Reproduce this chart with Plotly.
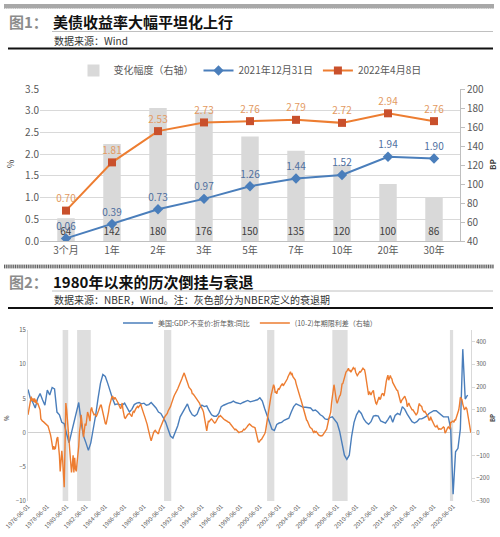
import pandas as pd
import plotly.graph_objects as go

FONT = "Noto Sans CJK SC"
W, H = 500, 537

# ---- chart 1: treasury curve
tenors = ["3个月", "1年", "2年", "3年", "5年", "7年", "10年", "20年", "30年"]
y_2021 = [0.06, 0.39, 0.73, 0.97, 1.26, 1.44, 1.52, 1.94, 1.90]
y_2022 = [0.70, 1.81, 2.53, 2.73, 2.76, 2.79, 2.72, 2.94, 2.76]
chg_bp = [64, 142, 180, 176, 150, 135, 120, 100, 86]

# ---- chart 2: GDP yoy (quarterly, from 1976Q2) and 10y-2y spread (monthly, from 1976-06)
gdp_start = "1976-06-01"
gdp_yoy = [
    6.3, 5.0, 4.4,
    3.6, 5.0, 5.7, 4.8,
    4.0, 6.2, 5.5, 6.6,
    6.4, 3.0, 2.6, 1.5,
    1.3, -0.2, -1.5, 0.0,
    1.5, 3.0, 4.4, 1.5,
    -0.5, -1.5, -2.6, -1.5,
    0.3, 2.5, 5.0, 7.2,
    8.5, 8.2, 7.2, 6.0,
    5.0, 4.1, 4.2, 4.1,
    4.0, 4.3, 3.6, 3.0,
    3.4, 4.1, 4.3, 4.4,
    4.2, 4.3, 4.0, 4.1,
    4.4, 4.0, 3.6, 3.0,
    2.8, 2.2, 1.5, 0.5,
    -0.5, -0.8, 0.0, 1.0,
    2.3, 3.0, 3.6, 4.2,
    3.2, 2.6, 2.4, 2.7,
    3.6, 4.0, 3.8, 3.9,
    3.2, 2.6, 2.4, 2.4,
    2.8, 3.8, 4.0, 4.2,
    4.3, 4.4, 4.6, 4.4,
    4.3, 4.2, 4.4, 4.6,
    4.7, 4.5, 4.6, 4.7,
    4.8, 5.1, 4.6, 3.5,
    2.5, 1.3, 0.5, 0.3,
    1.2, 1.4, 1.5, 1.8,
    1.9, 2.1, 3.0, 3.8,
    4.2, 4.0, 3.8, 3.7,
    3.7, 3.6, 3.6, 3.2,
    3.3, 3.0, 2.6, 2.4,
    2.0, 1.9, 2.2, 2.3,
    1.8, 1.4, 0.2, -1.8,
    -3.3, -3.9, -3.3, -0.5,
    1.5, 2.6, 3.2, 2.8,
    2.0, 1.5, 1.2, 1.6,
    2.4, 2.5, 2.4, 1.7,
    1.5, 1.4, 1.9, 2.5,
    1.5, 2.5, 2.8, 2.6,
    3.8, 3.4, 2.7, 2.2,
    1.6, 1.4, 1.6, 2.0,
    2.0, 2.2, 2.4, 2.8,
    3.0, 3.2, 3.2, 2.9,
    2.6, 2.3, 2.3, 2.3,
    0.6, -9.0, -2.8, -2.3,
    0.5, 12.2, 4.9, 5.5,
]

spread_start = "1976-06-01"
spread_bp = [
    78, 100, 125, 145, 158, 140, 150,
    135, 150, 130, 145, 125, 130, 120, 110, 100, 60, 52, 50,
    48, 45, 42, 40, 35, 30, 28, 15, 5, -10, -30, -60,
    -75, -60, -72, -70, -45, -25, -20, -50, -100, -170, -120, -80,
    -120, -180, -240, -60, 130, 100, 50, 10, -40, -110, -150, -175,
    -140, -100, -175, -110, -160, -170, -130, -105, -60, 5, 30, 78,
    40, 0, -20, 10, 40, 30, 60, 90, 80, 60, 50, 100,
    110, 95, 85, 78, 80, 75, 72, 80, 95, 100, 110, 120,
    120, 100, 85, 75, 60, 40, 36, 50, 70, 90, 115, 132,
    145, 155, 160, 150, 145, 155, 150, 140, 138, 130, 120, 110,
    105, 115, 130, 100, 80, 65, 63, 70, 75, 80, 82, 84,
    80, 75, 70, 85, 95, 90, 100, 105, 110, 115, 110, 118,
    120, 123, 110, 100, 90, 80, 70, 60, 50, 36, 20, 0,
    -15, -25, -36, -20, -10, 0, 6, 10, 5, 0, -5, -6,
    10, 20, 30, 35, 45, 55, 63, 70, 75, 80, 84, 95,
    100, 105, 114, 125, 140, 150, 156, 165, 175, 180, 185, 192,
    200, 205, 213, 225, 235, 245, 255, 262, 250, 234, 230, 220,
    205, 198, 195, 190, 185, 171, 170, 165, 160, 156, 150, 145,
    140, 135, 129, 120, 115, 108, 100, 90, 72, 50, 20, 8,
    30, 51, 48, 55, 57, 60, 52, 50, 45, 42, 45, 50,
    55, 65, 72, 70, 75, 70, 65, 62, 60, 57, 55, 55,
    52, 48, 45, 45, 40, 35, 30, 25, 20, 15, 12, 15,
    10, 8, 5, 0, 2, 3, 5, 5, 10, 15, 12, 15,
    20, 25, 30, 36, 38, 35, 30, 28, 25, 25, 22, 21,
    5, -15, -30, -40, -42, -35, -32, -30, -25, -20, -15, -5,
    6, 30, 51, 85, 114, 130, 150, 165, 180, 195, 210, 200,
    174, 180, 170, 185, 192, 190, 200, 205, 210, 215, 205, 210,
    215, 222, 225, 235, 245, 252, 260, 267, 255, 258, 245, 240,
    237, 230, 215, 200, 192, 180, 165, 155, 144, 130, 115, 100,
    93, 80, 65, 55, 51, 40, 30, 25, 21, 18, 15, 5,
    0, 6, 2, 5, -2, -9, -10, -12, -15, -13, -15, -12,
    -5, 0, 5, 10, 15, 36, 50, 65, 78, 90, 129, 150,
    180, 210, 190, 160, 140, 129, 145, 150, 160, 165, 185, 213,
    215, 230, 240, 252, 265, 270, 275, 282, 270, 275, 265, 270,
    275, 285, 280, 282, 265, 255, 250, 255, 260, 267, 265, 270,
    275, 282, 278, 276, 260, 240, 213, 190, 165, 180, 170, 165,
    175, 180, 185, 160, 140, 129, 125, 140, 150, 156, 145, 150,
    165, 171, 170, 160, 175, 213, 225, 240, 252, 230, 240, 250,
    240, 235, 220, 213, 205, 200, 190, 186, 185, 170, 160, 145,
    130, 140, 145, 150, 156, 160, 150, 140, 114, 125, 130, 120,
    110, 100, 100, 100, 95, 85, 80, 78, 82, 90, 115, 128,
    120, 118, 115, 100, 95, 90, 93, 83, 80, 78, 65, 55,
    55, 70, 60, 50, 45, 38, 30, 25, 25, 30, 25, 15,
    17, 16, 15, 18, 20, 25, 22, -2, 3, 15, 20, 25,
    20, 15, 45, 45, 50, 50, 45, 55, 55, 65, 70, 80,
    100, 125, 155, 150, 145, 125, 110, 100, 105, 110, 105, 80,
    70, 45, 20, 0,
]

rec_start = ["1980-01-01", "1981-07-01", "1990-07-01", "2001-03-01", "2007-12-01", "2020-02-01"]
rec_end = ["1980-07-31", "1982-11-30", "1991-03-31", "2001-11-30", "2009-06-30", "2020-06-01"]
x_ticks = [f"{y}-06-01" for y in range(1976, 2021, 2)]


def py(p):
    # pixel row -> paper y
    return 1 - p / H


def px(p):
    return p / W


gdp_dates = pd.date_range(gdp_start, periods=len(gdp_yoy), freq="3MS")
spread_dates = pd.date_range(spread_start, periods=len(spread_bp), freq="MS")

fig = go.Figure()

# chart 1
fig.add_trace(go.Bar(
    x=tenors, y=[v - 40 for v in chg_bp], base=40, name="变化幅度（右轴）",
    marker_color="#d9d9d9", width=0.38, text=chg_bp, textposition="inside",
    insidetextanchor="start", textangle=0,
    insidetextfont=dict(size=10, color="#404040"),
    xaxis="x", yaxis="y", legend="legend",
))
fig.add_trace(go.Scatter(
    x=tenors, y=y_2021, name="2021年12月31日", mode="lines+markers+text",
    line=dict(color="#4a7ebb", width=2),
    marker=dict(symbol="diamond", size=8, color="#4a7ebb"),
    text=[f"{v:.2f}" for v in y_2021], textposition="top center",
    textfont=dict(size=10, color="#4f6f9f"),
    xaxis="x", yaxis="y2", legend="legend",
))
fig.add_trace(go.Scatter(
    x=tenors, y=y_2022, name="2022年4月8日", mode="lines+markers+text",
    line=dict(color="#ed7d31", width=2),
    marker=dict(symbol="square", size=8, color="#c9502c"),
    text=[f"{v:.2f}" for v in y_2022], textposition="top center",
    textfont=dict(size=10, color="#e39a62"),
    xaxis="x", yaxis="y2", legend="legend",
))

# chart 2
fig.add_trace(go.Scatter(
    x=gdp_dates, y=gdp_yoy, name="美国:GDP:不变价:折年数:同比", mode="lines",
    line=dict(color="#4a7ebb", width=1.4),
    xaxis="x3", yaxis="y3", legend="legend2",
))
fig.add_trace(go.Scatter(
    x=spread_dates, y=spread_bp, name="(10-2)年期限利差（右轴）", mode="lines",
    line=dict(color="#ed7d31", width=1.4),
    xaxis="x3", yaxis="y4", legend="legend2",
))

shapes = []
for s, e in zip(rec_start, rec_end):
    shapes.append(dict(type="rect", xref="x3", yref="y3 domain", x0=s, x1=e, y0=0, y1=1,
                       fillcolor="#dedede", line_width=0, layer="below"))

# header decorations: hatched bands, thin rule under title, thick rule under source
for y_hatch in (6.5, 266.5):
    shapes.append(dict(type="rect", xref="paper", yref="paper", x0=px(4), x1=px(494),
                       y0=py(y_hatch + 2), y1=py(y_hatch - 2),
                       fillcolor="#c4c4c4", line_width=0))
    shapes.append(dict(type="line", xref="paper", yref="paper", x0=px(4), x1=px(494),
                       y0=py(y_hatch), y1=py(y_hatch),
                       line=dict(color="#5f5f5f", width=3.6, dash="1px,1.2px")))
for y_thin, y_thick in ((31.5, 48.5), (291, 308)):
    shapes.append(dict(type="line", xref="paper", yref="paper", x0=px(52), x1=px(493),
                       y0=py(y_thin), y1=py(y_thin), line=dict(color="#b0b0b0", width=0.8)))
    shapes.append(dict(type="line", xref="paper", yref="paper", x0=px(8), x1=px(493),
                       y0=py(y_thick), y1=py(y_thick), line=dict(color="#111111", width=1.8)))

ann = []


def note(text, x, y, size, color="#222222", angle=0, anchor="left"):
    ann.append(dict(text=text, x=px(x), y=py(y), xref="paper", yref="paper",
                    xanchor=anchor, yanchor="middle", showarrow=False, textangle=angle,
                    font=dict(family=FONT, size=size, color=color)))


# top band again as a filled annotation box
ann.append(dict(text="&nbsp;", x=px(4), y=py(6.5), xref="paper", yref="paper",
                xanchor="left", yanchor="middle", showarrow=False, width=490, height=4,
                bgcolor="#a8a8a8", borderpad=0, borderwidth=0, font=dict(size=2)))

note("<b>图1：</b>", 7, 21.5, 15, "#8c8c8c")
note("<b>美债收益率大幅平坦化上行</b>", 51, 21.5, 15, "#111111")
note("数据来源：Wind", 52, 40.5, 10, "#333333")
note("<b>图2：</b>", 7, 281, 15, "#8c8c8c")
note("<b>1980年以来的历次倒挂与衰退</b>", 51, 281, 15, "#111111")
note("数据来源：NBER，Wind。注：灰色部分为NBER定义的衰退期", 52, 299, 10, "#333333")
note("%", 10, 164, 9, "#404040", -90, "center")
note("<b>BP</b>", 492, 165, 8, "#404040", -90, "center")
note("%", 6, 418, 6, "#404040", -90, "center")
note("<b>BP</b>", 492, 418, 6, "#404040", -90, "center")

fig.update_layout(
    template="none",
    width=W, height=H, margin=dict(l=0, r=0, t=0, b=0, autoexpand=False),
    paper_bgcolor="white", plot_bgcolor="white",
    font=dict(family=FONT, color="#595959"),
    shapes=shapes, annotations=ann,
    uniformtext=dict(minsize=10, mode="show"),
    legend=dict(orientation="h", x=0.5, xanchor="center", y=py(70.5), yanchor="middle",
                font=dict(size=10, color="#595959"), bgcolor="rgba(0,0,0,0)", itemwidth=30),
    legend2=dict(orientation="h", x=0.5, xanchor="center", y=py(323), yanchor="middle",
                 font=dict(size=7, color="#595959"), bgcolor="rgba(0,0,0,0)", itemwidth=30),
    xaxis=dict(domain=[px(40), px(460)], anchor="y", type="category", showline=True,
               linecolor="#bfbfbf", ticks="", showgrid=False, automargin=False,
               tickfont=dict(size=10)),
    yaxis=dict(domain=[py(241), py(89)], anchor="x", side="right", range=[40, 200], dtick=20,
               showline=True, linecolor="#bfbfbf", ticks="outside", ticklen=4, tickcolor="#bfbfbf",
               showgrid=False, zeroline=False, automargin=False, tickfont=dict(size=10)),
    yaxis2=dict(overlaying="y", anchor="x", side="left", range=[0, 3.5], dtick=0.5,
                tickformat=".1f", showgrid=True, gridcolor="#d9d9d9", zeroline=False,
                showline=False, ticks="", automargin=False, tickfont=dict(size=10)),
    xaxis3=dict(domain=[px(28), px(471)], anchor="y3", type="date",
                range=["1976-06-01", "2022-04-08"], tickvals=x_ticks, ticktext=x_ticks,
                tickangle=-45, tickfont=dict(size=6), showline=False, showgrid=False,
                zeroline=False, ticks="", automargin=False),
    yaxis3=dict(domain=[py(501), py(330)], anchor="x3", range=[-10, 15], dtick=5,
                showline=True, linecolor="#d9d9d9", zeroline=True, zerolinecolor="#d0d0d0",
                zerolinewidth=1, showgrid=False, ticks="", automargin=False,
                tickfont=dict(size=6)),
    yaxis4=dict(overlaying="y3", anchor="x3", side="right", range=[-300, 450],
                tickvals=[-300, -200, -100, 0, 100, 200, 300, 400], showline=True,
                linecolor="#d9d9d9", ticks="outside", ticklen=3, tickcolor="#d9d9d9",
                showgrid=False, zeroline=False, automargin=False, tickfont=dict(size=6)),
)

# the page body has a default 8px margin; drop it so the figure sits at the window corner
fig.write_html("out.html", config={"displayModeBar": False},
               post_script="document.body.style.margin='0';document.body.style.overflow='hidden';")
